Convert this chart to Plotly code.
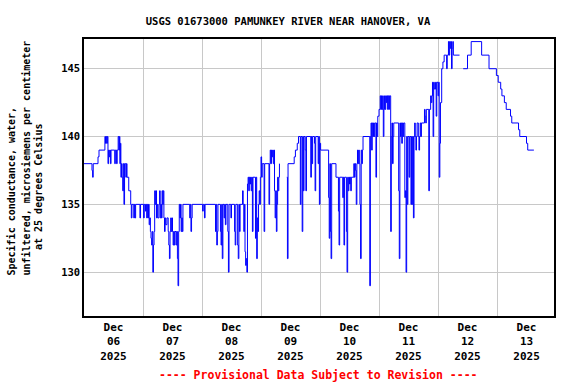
import pandas as pd
import plotly.graph_objects as go

# ---------------- data ----------------
start_time = "2025-12-06 00:00"

# hours after Dec 06 00:00 (step series, 15-minute data); None = gap
hours = [
    0, 3.25, 3.5, 3.75, 5.7, 6.1, 8.5, 8.75, 9, 9.25, 9.5, 9.75, 10, 10.25, 10.5, 10.75, 11,
    12.5, 12.75, 13.25, 13.5, 13.9, 14.2, 14.4, 14.6, 14.8, 15, 15.25, 15.5, 15.75, 16, 16.25,
    16.5, 17, 17.25, 17.5, 18.2, 19, 19.25, 19.5, 20.25, 20.5, 20.75, 21, 22.75, 23, 24.25, 24.5,
    25, 25.25, 25.5, 25.75, 26, 26.25, 26.5, 26.75, 27, 27.25, 27.5, 27.75, 28, 28.25, 28.5,
    28.75, 29, 29.25, 29.5, 29.75, 30, 30.5, 30.75, 31, 31.25, 31.5, 31.75, 32, 32.25, 32.5,
    32.75, 33, 33.25, 33.75, 34.25, 34.5, 34.75, 35, 35.25, 35.5, 35.75, 36, 36.25, 36.5, 36.75,
    37, 37.5, 37.75, 38, 38.25, 38.5, 38.75, 39, 39.25, 39.5, 39.75, 40, 40.25, 43, 43.25, 43.5,
    43.75, 44, 48.25, 48.5, 49, 49.25, 53.5, 53.75, 54, 54.25, 54.5, 55.5, 55.75, 56, 56.25,
    56.5, 57, 57.25, 57.5, 57.75, 58.5, 58.75, 59, 59.75, 60, 61.25, 61.5, 61.75, 62.5, 62.75,
    63, 63.25, 63.5, 64.5, 64.75, 65, 65.25, 65.5, 65.75, 66, 66.25, 66.5, 66.75, 67, 67.25,
    67.5, 67.75, 68, 68.25, 68.5, 68.75, 69.75, 70, 70.25, 70.5, 70.75, 71, 71.25, 71.5, 71.75,
    72, 72.25, 72.5, 73.25, 73.5, 75.25, 75.5, 75.75, 76, 76.25, 76.5, 76.75, 77, 77.25, 77.5,
    77.75, 78, 78.25, 78.5, 78.75, 79, 79.25, 79.5, 81.25, 82.5, 82.75, 83, 85.5, 86, 86.75,
    87.25, 88, 88.25, 88.75, 89, 89.25, 89.5, 90, 90.25, 90.5, 92.25, 92.5, 92.75, 93, 93.75,
    94, 94.25, 95.25, 95.5, 95.75, 96, 96.25, 99.5, 99.75, 100, 100.25, 100.5, 100.75, 102.5,
    103.5, 103.75, 104, 105.25, 105.5, 105.75, 106, 106.75, 107, 107.25, 107.5, 107.75, 108,
    108.25, 108.5, 108.75, 109.75, 110, 110.25, 110.5, 110.75, 111, 111.25, 111.5, 111.75, 112,
    112.25, 112.5, 112.75, 113, 113.25, 113.5, 116.25, 116.5, 116.75, 117, 117.25, 117.5, 117.75,
    118, 118.25, 118.75, 119, 119.25, 119.5, 120, 120.5, 120.75, 121, 121.25, 121.5, 121.75, 122,
    122.25, 122.5, 122.75, 123, 123.25, 123.5, 123.75, 124, 124.25, 124.75, 125, 125.25, 125.5,
    125.75, 126, 128, 128.25, 128.5, 128.75, 129, 129.25, 129.5, 129.75, 130, 130.5, 130.75, 131,
    131.25, 131.5, 131.75, 132.25, 132.5, 133, 133.25, 133.5, 133.75, 134, 134.25, 134.5, 134.75,
    135, 135.25, 135.5, 136, 136.25, 136.5, 136.75, 137, 137.25, 138.5, 138.75, 139, 139.25,
    140.25, 140.5, 141, 141.25, 141.5, 141.75, 142, 142.25, 142.5, 143, 143.25, 143.5, 144,
    144.25, 144.5, 144.75, 145, 145.5, 146, 146.5, 147.5, 147.75, 148.25, 148.5, 148.75, 149,
    149.25, 149.5, 149.75, 150, 150.25, 152.75, 153, 154.25, 156, 157.5, 161.75, 164.75, 167.75,
    168.5, 169.5, 170, 171, 171.75, 173.5, 174, 176.75, 177.25, 180, 180.5, 183,
]

conductance = [
    138, 137.5, 137, 138, 138.5, 139, 140, 139.5, 140, 139.5, 140, 138, 139, 138.5, 139, 138, 139,
    138, 139, 138, 139, 140, 139, 140, 138, 139.5, 137, 138, 137, 136, 138, 135,
    138, 137, 138, 137, 136, 135, 134, 135, 134, 135, 134, 135, 134, 135, 134, 135,
    134.5, 135, 134, 135, 134, 135, 133.5, 134, 133, 132.5, 132, 133, 130, 132, 133,
    136, 135, 136, 134, 135, 134, 135, 136, 134, 135, 134, 136, 135, 136, 134,
    133, 134, 133.5, 134, 133, 132, 131, 133, 134, 133, 134, 133, 132, 133, 132,
    133, 132, 133, 131, 129, 133, 135, 134, 135, 133, 134, 133, 135, 134, 135, 133,
    134, 135, 134.5, 135, 134, 135, 133, 135, 132, 133, 135, 133, 132, 135, 131,
    135, 134, 135, 133.5, 135, 133, 130, 135, 134, 135, 133, 132, 135, 132, 131,
    135, 133, 135, 136, 135, 133, 135, 131.5, 130.5, 131, 130, 136.5, 137, 136, 137,
    136.5, 137, 136, 137, 133, 137, 132.5, 137, 131, 134, 133, 135, 136, 135, 137,
    138.5, 137, 138, 133, 138, 135, 138, 139, 138, 139, 138.5, 139, 138, 139, 136,
    134, 136, 133, 135, 137, 136, 137, 138, None, 137, 131, 138, 138.5, 139, 139.5,
    140, 135, 140, 133, 140, 136, 140, 139, 136, 140, 137, 140, 138, 140, 139.5,
    136, 140, 138, 140, 135, 139.5, 139, 135.5, 132.5, 138, 133, 131, 138, 137,
    134.5, 132, 137, 135.5, 137, 132, 137, 133, 130, 137, 136, 137, 136.5,
    137, 136, 137, 138, 137, 138, 137.5, 135, 138, 139, 138, 139, 138,
    135, 131, 139, 138, 139, 140, 129, 140, 141, 139, 141, 140, 141,
    140, 141, 137, 141, 140, 141.5, 142, 143, 142, 143, 142, 143, 140, 142,
    143, 142, 143, 142.5, 143, 142, 143, 142, 143, 133, 140, 141, 138,
    140, 141, 136, 131, 141, 140, 141, 139.5, 141, 140, 141, 135.5, 136, 130,
    140, 135, 140, 137, 140, 135, 140, 135, 140, 134, 140, 141, 140,
    139, 140, 141, 140, 139, 140, 141, 140, 141, 142, 141.5, 141, 142,
    136, 142, 143, 142.5, 143, 144, 140, 144, 143.5, 144, 141.5, 144, 143,
    144, 137, 139.5, 142.5, 145, 145.5, 146, 145, 146, 147, 146, 147, 146.5,
    147, 145, 146.5, 147, 146, 146, None, 145, 146, 147, 146, 145, 144.5,
    144, 143.5, 143, 142.5, 142, 141.5, 141, 140.5, 140, 139.5, 139, 139,
]

tick_days = ["2025-12-06", "2025-12-07", "2025-12-08", "2025-12-09",
             "2025-12-10", "2025-12-11", "2025-12-12", "2025-12-13"]
tick_labels = ["Dec<br>06<br>2025", "Dec<br>07<br>2025", "Dec<br>08<br>2025", "Dec<br>09<br>2025",
               "Dec<br>10<br>2025", "Dec<br>11<br>2025", "Dec<br>12<br>2025", "Dec<br>13<br>2025"]
grid_days = ["2025-12-07", "2025-12-08", "2025-12-09", "2025-12-10",
             "2025-12-11", "2025-12-12", "2025-12-13"]
y_ticks = [130, 135, 140, 145]

title_text = "USGS 01673000 PAMUNKEY RIVER NEAR HANOVER, VA"
ytitle_lines = ["Specific conductance, water,",
                "unfiltered, microsiemens per centimeter",
                "at 25 degrees Celsius"]
footer_text = "---- Provisional Data Subject to Revision ----"

# ---------------- figure ----------------
t0 = pd.Timestamp(start_time)
times = [t0 + pd.Timedelta(hours=h) for h in hours]
tick_vals = [pd.Timestamp(d) + pd.Timedelta(hours=12) for d in tick_days]

FONT = "DejaVu Sans Mono"
GRID = "#c8c8c8"

fig = go.Figure()
fig.add_trace(go.Scatter(
    x=times, y=conductance, mode="lines",
    line=dict(color="#0000ff", width=1, shape="hv"),
    connectgaps=False, showlegend=False, hoverinfo="skip",
))

fig.update_layout(
    width=576, height=384,
    margin=dict(l=84, r=22, t=39, b=68),
    paper_bgcolor="white", plot_bgcolor="white",
    title=dict(text=title_text, x=0.5, xref="container", xanchor="center",
               y=1 - 21 / 384, yref="container", yanchor="middle",
               font=dict(family=FONT, size=10.5, color="black", weight="bold")),
)

fig.update_xaxes(
    type="date",
    range=[t0, t0 + pd.Timedelta(days=7.966)],
    tickmode="array", tickvals=tick_vals, ticktext=tick_labels,
    showgrid=False, ticks="", zeroline=False,
    tickfont=dict(family=FONT, size=11, color="black", weight="bold"),
    showline=True, linecolor="black", linewidth=1.5, mirror=True,
    minor=dict(tickmode="array", tickvals=grid_days, showgrid=True,
               gridcolor=GRID, gridwidth=1, ticks=""),
)
fig.update_yaxes(
    range=[126.77, 147.19],
    tickmode="array", tickvals=y_ticks,
    showgrid=True, gridcolor=GRID, gridwidth=1, zeroline=False, ticks="",
    tickfont=dict(family=FONT, size=10.5, color="black", weight="bold"),
    showline=True, linecolor="black", linewidth=1.5, mirror=True,
)

# y-axis title (three rotated lines)
W, H, L, B = 470, 277, 84, 316
yt_font = dict(family=FONT, size=10, color="black", weight="bold")
fig.add_annotation(text=ytitle_lines[0], textangle=-90, showarrow=False,
                   xref="paper", yref="paper", x=(11 - L) / W, y=(B - 278) / H,
                   xanchor="center", yanchor="bottom", font=yt_font)
fig.add_annotation(text=ytitle_lines[1], textangle=-90, showarrow=False,
                   xref="paper", yref="paper", x=(26 - L) / W, y=(B - 278) / H,
                   xanchor="center", yanchor="bottom", font=yt_font)
fig.add_annotation(text=ytitle_lines[2], textangle=-90, showarrow=False,
                   xref="paper", yref="paper", x=(38 - L) / W, y=(B - 187) / H,
                   xanchor="center", yanchor="middle", font=yt_font)

# footer
fig.add_annotation(text=footer_text, showarrow=False,
                   xref="paper", yref="paper", x=(318 - L) / W, y=(B - 375) / H,
                   xanchor="center", yanchor="middle",
                   font=dict(family=FONT, size=11.5, color="#ff0000", weight="bold"))

fig.write_html("out.html",
               config={"displayModeBar": False},
               post_script="document.body.style.margin='0';document.body.style.overflow='hidden';")
